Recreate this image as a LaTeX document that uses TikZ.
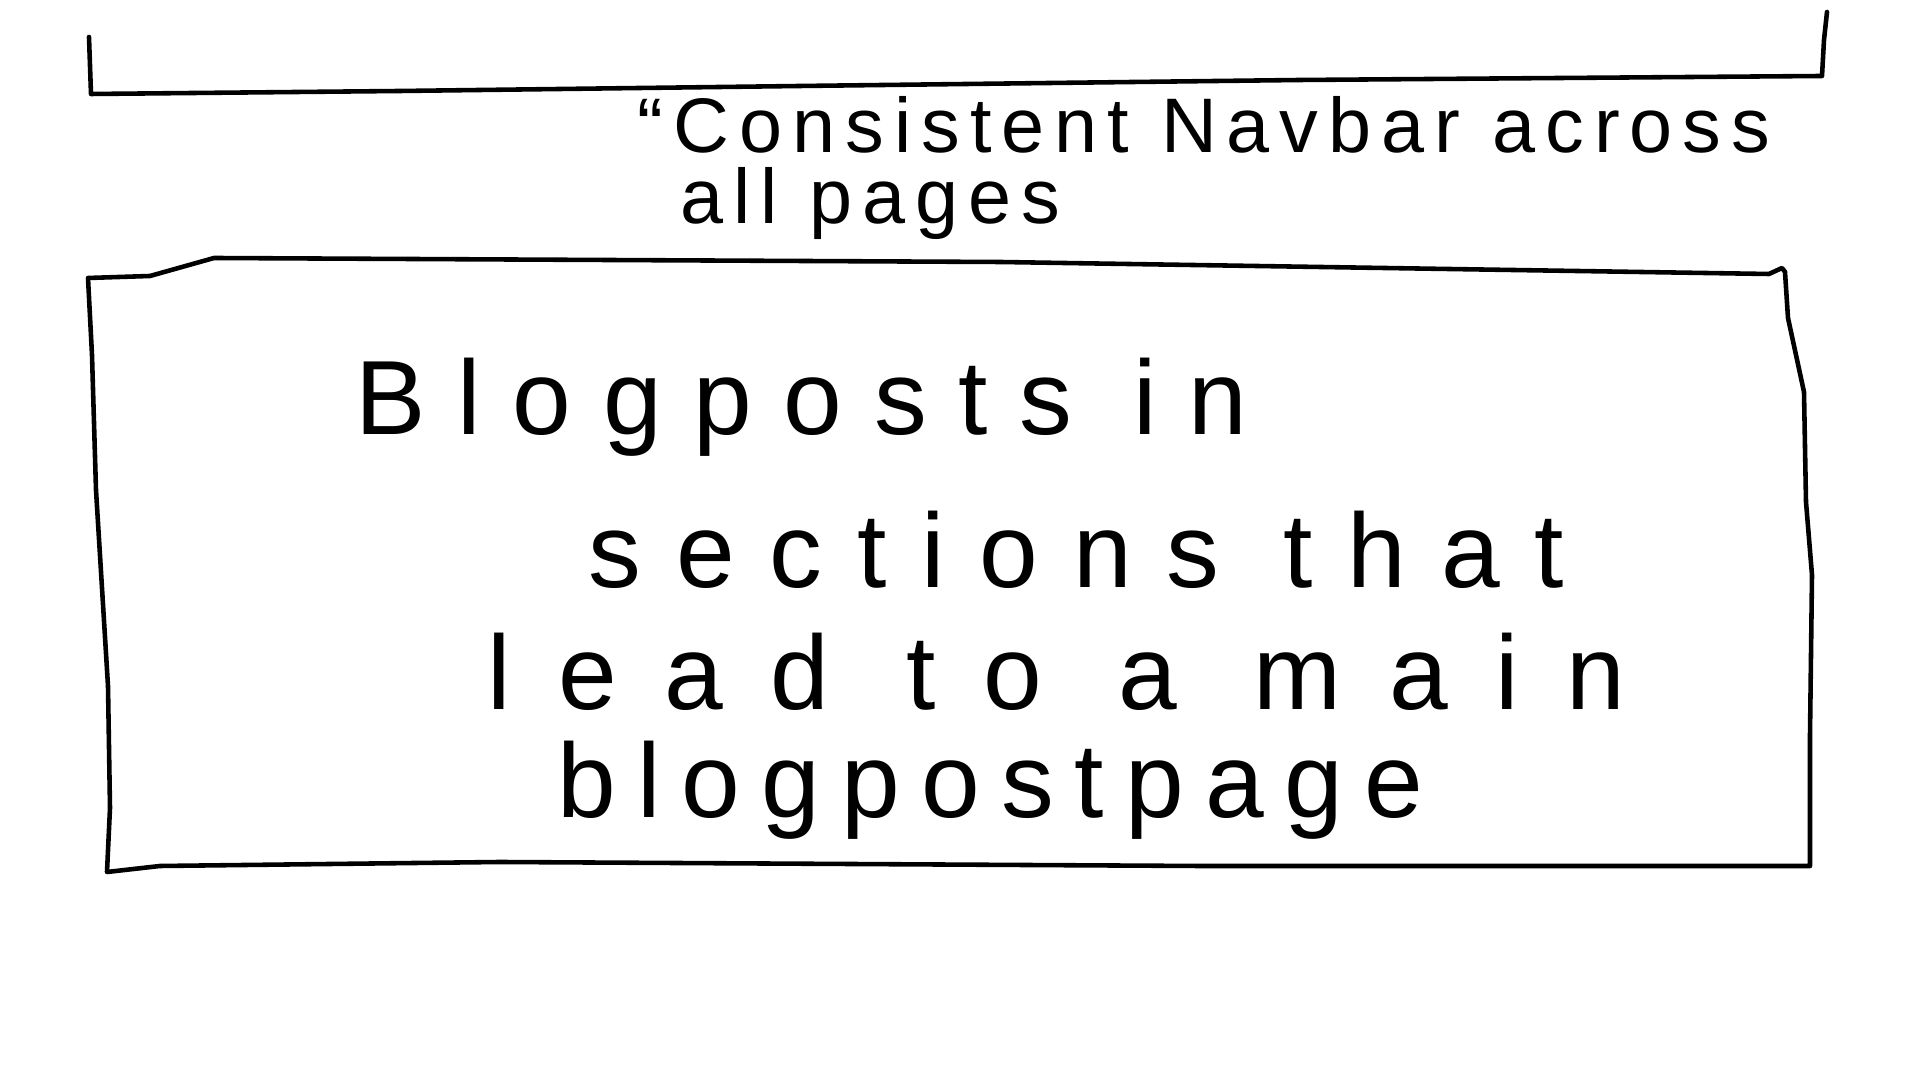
\documentclass[tikz,border=0pt]{standalone}
\usepackage{fontspec}
\setmainfont{Liberation Sans}
\begin{document}
\begin{tikzpicture}[x=0.01cm, y=-0.01cm, line cap=round, line join=round]
  \tikzset{
    sketch/.style={line width=1.3pt, draw=black},
    note/.style={anchor=base west, inner sep=0pt, font=\fontsize{22}{26}\selectfont\addfontfeature{LetterSpace=13}},
    bigtext/.style={anchor=base west, inner sep=0pt, font=\fontsize{30}{36}\selectfont\addfontfeature{LetterSpace=#1}},
    bigtext/.default=30
  }
  \useasboundingbox[fill=white] (0,0) rectangle (1920,1080);

  % navbar (open at the top)
  \draw[sketch] (89,37) -- (91,94) -- (400,91) -- (800,86) -- (1300,80) -- (1822,76) -- (1824,40) -- (1827,12);

  % note under the navbar
  \node[note] (navnote1) at (637,153) {“Consistent Navbar across};
  \node[note] (navnote2) at (680,224) {all pages};

  % main content box
  \draw[sketch] (88,278) -- (150,276) -- (214,258) -- (1000,262) -- (1769,274) -- (1782,268)
    -- (1785,272) -- (1788,318) -- (1804,392) -- (1806,502) -- (1812,575) -- (1810,735) -- (1810,866)
    -- (1200,866) -- (500,862) -- (160,866) -- (107,872)
    -- (110,808) -- (108,686) -- (96,490) -- (92,355) -- cycle;

  % text inside the box
  \node[bigtext] (posts1) at (355,435) {Blogposts in};
  \node[bigtext=33] (posts2) at (588,588) {sections that};
  \node[bigtext=45] (posts3) at (487,710) {lead to a main};
  \node[bigtext=20] (posts4) at (557,818) {blogpostpage};

\end{tikzpicture}
\end{document}
